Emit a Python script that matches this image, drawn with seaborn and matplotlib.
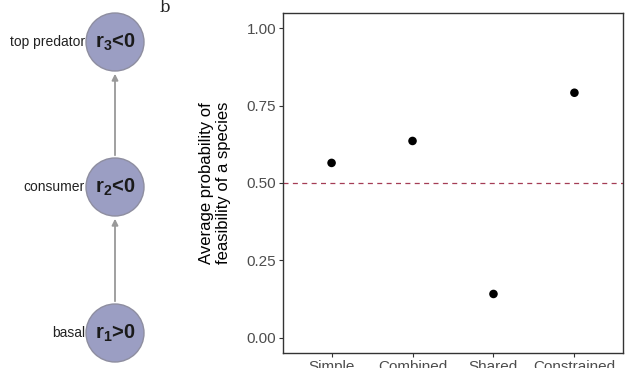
import matplotlib
matplotlib.use("Agg")
import matplotlib.pyplot as plt
from matplotlib.patches import Circle, FancyArrowPatch
import pandas as pd
import seaborn as sns

# panel b data
models = ["Simple", "Combined", "Shared", "Constrained"]
feasibility = [0.565, 0.636, 0.141, 0.792]
threshold = 0.5

# panel a food chain (bottom to top)
levels = ["basal", "consumer", "top predator"]
growth = [r"$\mathbf{r_1}$>0", r"$\mathbf{r_2}$<0", r"$\mathbf{r_3}$<0"]

sns.set_style("ticks")
plt.rcParams['font.family'] = ['Liberation Sans', 'DejaVu Sans']
plt.rcParams['mathtext.fontset'] = 'custom'
plt.rcParams['mathtext.bf'] = 'Liberation Sans:bold'
plt.rcParams['mathtext.rm'] = 'Liberation Sans'

W, H = 626, 368
fig = plt.figure(figsize=(W / 100, H / 100), dpi=100)

# ---- left diagram, in pixel units
axd = fig.add_axes([0, 0, 1, 1])
axd.set_xlim(0, W)
axd.set_ylim(H, 0)
axd.axis("off")
cx, rad = 115, 29
cy = [333, 187, 42]
for i, (lvl, g) in enumerate(zip(levels, growth)):
    axd.add_patch(Circle((cx, cy[i]), rad, facecolor="#9b9ec3", edgecolor="#8e8ea0", lw=1.0))
    axd.text(cx, cy[i], g, ha="center", va="center", fontsize=14.5, fontweight="bold", color="#1a1a1a")
    axd.text(cx - rad - 1, cy[i], lvl, ha="right", va="center", fontsize=10, color="#222222")
for i in range(len(levels) - 1):
    axd.add_patch(FancyArrowPatch((cx, cy[i] - rad), (cx, cy[i + 1] + rad),
                                  arrowstyle="-|>", mutation_scale=9, color="#999999", lw=1.3))
axd.text(165, 8, "b", ha="center", va="center", fontsize=12, family="DejaVu Serif")

# ---- right scatter
ax = fig.add_axes([283 / W, 1 - 353 / H, 340 / W, 340 / H])
df = pd.DataFrame({"model": models, "p": feasibility})
sns.scatterplot(data=df, x="model", y="p", color="black", s=38, edgecolor="none", ax=ax, zorder=3)
ax.axhline(threshold, color="#a43c55", ls=(0, (4, 3.5)), lw=0.9)
ax.set_xlim(-0.6, 3.6)
ax.set_ylim(-0.05, 1.05)
ax.set_yticks([0, 0.25, 0.5, 0.75, 1.0])
ax.set_yticklabels(["0.00", "0.25", "0.50", "0.75", "1.00"])
ax.set_xlabel("")
ax.set_ylabel("Average probability of\nfeasibility of a species", fontsize=12, color="black", labelpad=11)
ax.tick_params(axis="both", length=3, width=0.8, color="#333333", labelsize=11, labelcolor="#4d4d4d", pad=2)
for sp in ax.spines.values():
    sp.set_visible(True)
    sp.set_color("#333333")
    sp.set_linewidth(1.0)

fig.savefig("out.png", dpi=100)
